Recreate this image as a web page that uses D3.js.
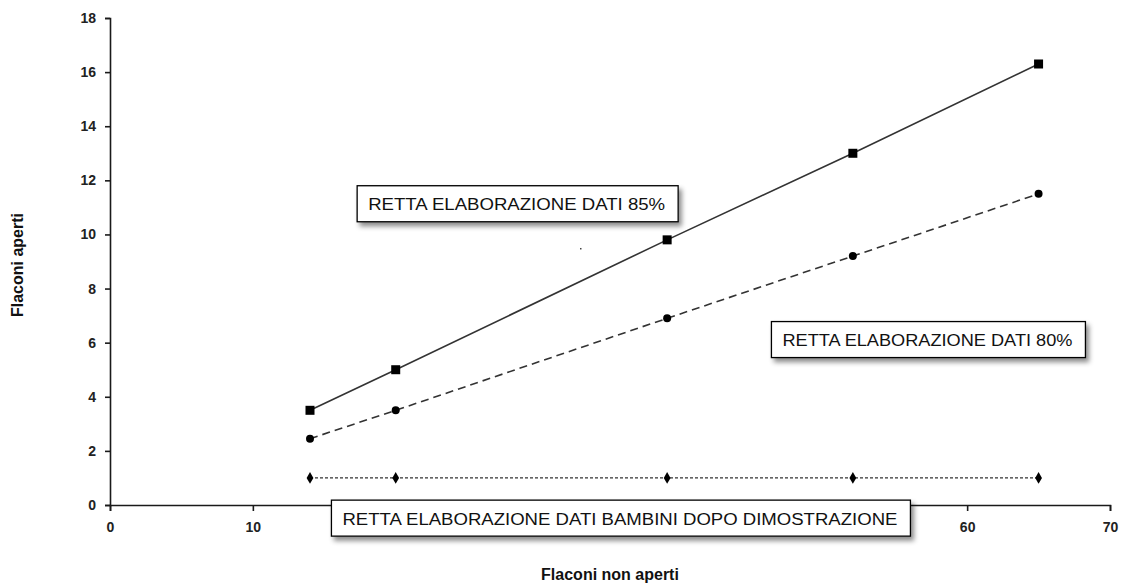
<!DOCTYPE html>
<html>
<head>
<meta charset="utf-8">
<script src="https://cdn.jsdelivr.net/npm/d3@7"></script>
<style>
  body { margin: 0; background: #fff; }
  svg { display: block; font-family: "Liberation Sans", Arial, sans-serif; }
</style>
</head>
<body>
<script>
// dati
const xValues   = [14, 20, 39, 52, 65]
const serie85   = [3.5, 5, 9.8, 13, 16.3]
const serie80   = [2.45, 3.5, 6.9, 9.2, 11.5]
const bambini   = [1, 1, 1, 1, 1]
const xTicks    = [0, 10, 20, 30, 40, 50, 60, 70]
// le etichette 20-50 sono coperte dalla casella di testo in basso
const xTickLabels = ["0", "10", "", "", "", "", "60", "70"]
const yTicks    = [0, 2, 4, 6, 8, 10, 12, 14, 16, 18]

// etichette: testo e ancoraggio (in coordinate dati)
const labels = [
  {text: "RETTA ELABORAZIONE DATI 85%", x: 17.3, y: 11.8, w: 321},
  {text: "RETTA ELABORAZIONE DATI 80%", x: 46.3, y: 6.78, w: 314},
  {text: "RETTA ELABORAZIONE DATI BAMBINI DOPO DIMOSTRAZIONE", x: 15.5, y: 0.18, w: 579}
]

const width = 1122, height = 587
const margin = {top: 18, right: 12, bottom: 82, left: 110}

const svg = d3.select("body").append("svg")
    .attr("width", width)
    .attr("height", height)

const defs = svg.append("defs")
const f = defs.append("filter").attr("id", "shadow")
    .attr("x", "-10%").attr("y", "-30%").attr("width", "130%").attr("height", "180%")
f.append("feDropShadow")
    .attr("dx", 3).attr("dy", 4).attr("stdDeviation", 2.5)
    .attr("flood-color", "#000").attr("flood-opacity", 0.45)

const x = d3.scaleLinear().domain([0, 70]).range([margin.left, 1110])
const y = d3.scaleLinear().domain([0, 18]).range([505, margin.top])

// assi
const xAxis = svg.append("g")
    .attr("transform", `translate(0, ${y(0)})`)
    .call(d3.axisBottom(x).tickValues(xTicks)
      .tickFormat((d, i) => xTickLabels[i])
      .tickSize(6).tickSizeOuter(6).tickPadding(11))
const yAxis = svg.append("g")
    .attr("transform", `translate(${x(0)}, 0)`)
    .call(d3.axisLeft(y).tickValues(yTicks).tickSize(5).tickSizeOuter(5).tickPadding(9))

;[xAxis, yAxis].forEach(a => {
  a.selectAll("path, line").attr("stroke", "#1a1a1a").attr("stroke-width", 1.6)
  a.selectAll("text").attr("fill", "#222").style("font-size", "14px").style("font-weight", "bold")
})

svg.append("text")
    .attr("x", 610).attr("y", 580)
    .attr("text-anchor", "middle")
    .style("font-size", "16px").style("font-weight", "bold")
    .attr("fill", "#111")
    .text("Flaconi non aperti")

svg.append("text")
    .attr("transform", `translate(23, 265) rotate(-90)`)
    .attr("text-anchor", "middle")
    .style("font-size", "16px").style("font-weight", "bold")
    .attr("fill", "#111")
    .text("Flaconi aperti")

const line = d3.line().x((d, i) => x(xValues[i])).y(d => y(d))

// serie 85%: linea continua, quadrati
svg.append("path").datum(serie85)
    .attr("d", line).attr("fill", "none")
    .attr("stroke", "#333").attr("stroke-width", 1.6)
svg.selectAll(".sq").data(serie85).enter().append("rect")
    .attr("x", (d, i) => x(xValues[i]) - 4.5)
    .attr("y", d => y(d) - 4.5)
    .attr("width", 9).attr("height", 9)
    .attr("fill", "#000")

// serie 80%: tratteggiata, cerchi
svg.append("path").datum(serie80)
    .attr("d", line).attr("fill", "none")
    .attr("stroke", "#333").attr("stroke-width", 1.6)
    .attr("stroke-dasharray", "8,5")
svg.selectAll(".ci").data(serie80).enter().append("circle")
    .attr("cx", (d, i) => x(xValues[i]))
    .attr("cy", d => y(d))
    .attr("r", 4).attr("fill", "#000")

// bambini: punteggiata, rombi
svg.append("path").datum(bambini)
    .attr("d", line).attr("fill", "none")
    .attr("stroke", "#333").attr("stroke-width", 1.2)
    .attr("stroke-dasharray", "3,2")
svg.selectAll(".di").data(bambini).enter().append("path")
    .attr("d", d3.symbol(d3.symbolDiamond, 40))
    .attr("transform", (d, i) => `translate(${x(xValues[i])}, ${y(d)})`)
    .attr("fill", "#000")

// puntino isolato
svg.append("rect").attr("x", x(32.9)).attr("y", y(9.5)).attr("width", 1.5).attr("height", 1.5).attr("fill", "#444")

// caselle di testo
labels.forEach(l => {
  const g = svg.append("g").attr("transform", `translate(${x(l.x)}, ${y(l.y)})`)
  g.append("rect")
      .attr("width", l.w).attr("height", 36)
      .attr("fill", "#fff").attr("stroke", "#000").attr("stroke-width", 1.3)
      .attr("filter", "url(#shadow)")
  g.append("text")
      .attr("x", 11).attr("y", 24.5)
      .attr("textLength", l.w - 24)
      .attr("lengthAdjust", "spacingAndGlyphs")
      .style("font-size", "16px")
      .attr("fill", "#111")
      .text(l.text)
})
</script>
</body>
</html>
